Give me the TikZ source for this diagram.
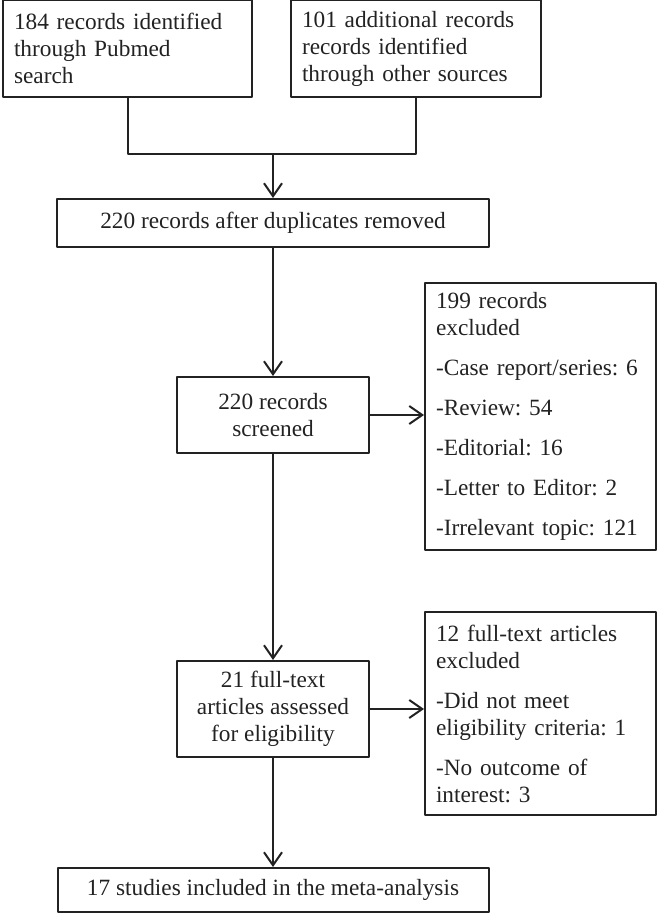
\documentclass[tikz,border=0pt]{standalone}
\usepackage{fontspec}
\setmainfont{Liberation Serif}
\usetikzlibrary{arrows.meta}
\definecolor{ink}{HTML}{222222}
\tikzset{
	box/.style={draw=ink, text=ink, line width=1pt, inner xsep=6.5pt, inner ysep=0pt},
	lbox/.style={box, align=left, inner xsep=5.5pt, text width=#1},
	cbox/.style={box, align=center, minimum width=#1},
}
\newcommand{\gap}{\\[6.5pt]}
\frenchspacing
\begin{document}
\begin{tikzpicture}[x=0.5pt, y=-0.5pt, font=\fontsize{11.65pt}{13.5pt}\selectfont\frenchspacing, line join=round, >={Straight Barb[length=6.5pt,width=9pt]}]
	\useasboundingbox (0,0) rectangle (657,913);
	\path (273,154) coordinate (M);
	\node[lbox=113.5pt, minimum height=48.5pt] (pubmed) at (127.5,48.5) {184 records identified\\through Pubmed\\search};
	\node[lbox=114pt, minimum height=48.5pt] (other) at (416,48.5) {101 additional records\\records identified\\through other sources};
	\node[cbox=216pt, minimum height=24pt] (dup) at (273,223) {220 records after duplicates removed};
	\node[cbox=96pt, minimum height=38pt] (screened) at (273,415) {220 records\\screened};
	\node[lbox=104.5pt, minimum height=133.5pt] (excl) at (540.5,416.5) {199 records\\excluded\gap -Case report/series: 6\gap -Review: 54\gap -Editorial: 16\gap -Letter to Editor: 2\gap -Irrelevant topic: 121};
	\node[cbox=96pt, minimum height=48pt] (fulltext) at (273,709) {21 full-text\\articles assessed\\for eligibility};
	\node[lbox=104.5pt, minimum height=101.5pt] (exclft) at (540.5,713.5) {12 full-text articles\\excluded\gap -Did not meet\\eligibility criteria: 1\gap -No outcome of\\interest: 3};
	\node[cbox=215.5pt, minimum height=22pt] (final) at (273,890) {17 studies included in the meta-analysis};
	\begin{scope}[draw=ink, line width=1pt]
		\draw (pubmed) -- (pubmed |- M) -- (other |- M) -- (other);
		\draw[->] (M) -- (dup);
		\foreach \a/\b in {dup/screened, screened/fulltext, fulltext/final} \draw[->] (\a) -- (\b);
		\foreach \a/\b in {screened/excl, fulltext/exclft} \draw[->] (\a) -- (\a -| \b.west);
	\end{scope}
\end{tikzpicture}
\end{document}
